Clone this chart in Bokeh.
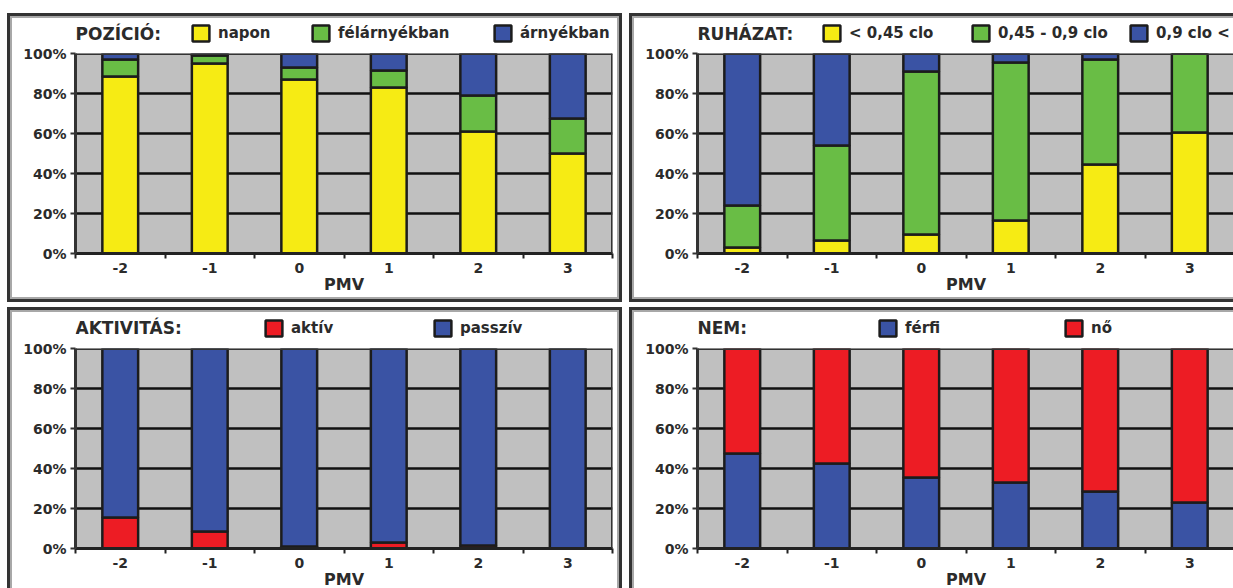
from bokeh.plotting import figure
from bokeh.layouts import row, column
from bokeh.models import (ColumnDataSource, FixedTicker, Legend, LegendItem, Label,
                          Span, Range1d, GlobalInlineStyleSheet)
from bokeh.embed import file_html
from bokeh.resources import INLINE

# ---------------- data ----------------
pmv = [-2, -1, 0, 1, 2, 3]
pmv_labels = ["-2", "-1", "0", "1", "2", "3"]
y_ticks = [0, 20, 40, 60, 80, 100]
y_labels = ["0%", "20%", "40%", "60%", "80%", "100%"]

# POZÍCIÓ
poz_names = ["napon", "félárnyékban", "árnyékban"]
poz_napon = [88.5, 95, 87, 83, 61, 50]
poz_felarnyek = [8.5, 4, 6, 8.5, 18, 17.5]
poz_arnyek = [3, 1, 7, 8.5, 21, 32.5]

# RUHÁZAT
ruh_names = ["< 0,45 clo", "0,45 - 0,9 clo", "0,9 clo <"]
ruh_low = [3, 6.5, 9.5, 16.5, 44.5, 60.5]
ruh_mid = [21, 47.5, 81.5, 79, 52.5, 39.5]
ruh_high = [76, 46, 9, 4.5, 3, 0]

# AKTIVITÁS
akt_names = ["aktív", "passzív"]
akt_aktiv = [15.5, 8.5, 1, 3, 1.5, 0]
akt_passziv = [84.5, 91.5, 99, 97, 98.5, 100]

# NEM
nem_names = ["férfi", "nő"]
nem_ferfi = [47.5, 42.5, 35.5, 33, 28.5, 23]
nem_no = [52.5, 57.5, 64.5, 67, 71.5, 77]

YELLOW = "#F6EB14"
GREEN = "#69BD45"
BLUE = "#3A53A4"
RED = "#ED1C24"
GRAY = "#C0C0C0"
DARK = "#1c1c1c"
TXT = "#2b2b2b"
FONT = "DejaVu Sans"
FRAME_LEFT = 63


def make_panel(title, names, series, colors, title_x, leg_xs, pos):
    top = pos == "top"
    lf_h = 27 if top else 28
    main_h = 252 if top else 251
    mbb = main_h - 8 - 200

    keys = ["s%d" % i for i in range(len(series))]
    data = {"x": pmv}
    for k, s in zip(keys, series):
        data[k] = s
    src = ColumnDataSource(data)

    # ---- header strip: title + legend ----
    lf = figure(width=605, height=lf_h, output_backend="svg", toolbar_location=None,
                x_range=Range1d(-2.5, 3.5), y_range=Range1d(0, 100),
                x_axis_type=None, y_axis_type=None,
                min_border_left=0, min_border_right=0, min_border_top=0, min_border_bottom=0)
    lf.outline_line_color = None
    lf.background_fill_color = "white"
    lf.border_fill_color = "white"
    lf.grid.visible = False
    lf.add_layout(Label(x=title_x, y=lf_h - 15, x_units="screen", y_units="screen",
                        text=title, text_font=FONT, text_font_size="17px",
                        text_font_style="bold", text_color=TXT, text_baseline="middle"))
    legend_rs = lf.vbar_stack(keys, x="x", width=0.4, source=src, fill_color=colors,
                              line_color=DARK, line_width=2.5, visible=False)
    for r, nm, lx in zip(legend_rs, names, leg_xs):
        lg = Legend(items=[LegendItem(label=nm, renderers=[r])],
                    location=(lx, 2),
                    orientation="horizontal", padding=0, margin=0, spacing=0,
                    border_line_color=None, background_fill_alpha=0,
                    inactive_fill_alpha=0,
                    glyph_width=21, glyph_height=20, label_standoff=7,
                    label_text_font=FONT, label_text_font_size="15px",
                    label_text_font_style="bold", label_text_color=TXT,
                    label_height=20)
        lf.add_layout(lg, "center")

    # ---- main chart ----
    p = figure(width=605, height=main_h, output_backend="svg", toolbar_location=None,
               x_range=Range1d(-2.5, 3.5), y_range=Range1d(0, 100),
               min_border_left=FRAME_LEFT, min_border_right=5,
               min_border_top=8, min_border_bottom=mbb)
    p.background_fill_color = GRAY
    p.border_fill_color = "white"
    p.outline_line_color = None

    p.vbar_stack(keys, x="x", width=0.4, source=src, fill_color=colors,
                 line_color=DARK, line_width=2.5)

    # grid
    p.xgrid.visible = False
    p.ygrid.ticker = FixedTicker(ticks=[20, 40, 60, 80])
    p.ygrid.grid_line_color = "#111111"
    p.ygrid.grid_line_width = 2.5

    # x axis
    xa = p.xaxis[0]
    xa.ticker = FixedTicker(ticks=pmv, minor_ticks=[-2.5, -1.5, -0.5, 0.5, 1.5, 2.5, 3.5])
    xa.major_label_overrides = {v: l for v, l in zip(pmv, pmv_labels)}
    xa.axis_line_color = "#222222"
    xa.axis_line_width = 3
    xa.major_tick_line_color = None
    xa.major_tick_out = 5
    xa.major_tick_in = 0
    xa.minor_tick_line_color = "#222222"
    xa.minor_tick_line_width = 2
    xa.minor_tick_out = 5
    xa.minor_tick_in = 0
    xa.major_label_standoff = 4
    xa.major_label_text_font = FONT
    xa.major_label_text_font_size = "14px"
    xa.major_label_text_font_style = "bold"
    xa.major_label_text_color = TXT
    xa.axis_label = "PMV"
    xa.axis_label_standoff = -1
    xa.axis_label_text_font = FONT
    xa.axis_label_text_font_size = "16px"
    xa.axis_label_text_font_style = "bold"
    xa.axis_label_text_color = TXT

    # y axis
    ya = p.yaxis[0]
    ya.ticker = FixedTicker(ticks=y_ticks)
    ya.major_label_overrides = {v: l for v, l in zip(y_ticks, y_labels)}
    ya.axis_line_color = "#333333"
    ya.axis_line_width = 3
    ya.major_tick_line_color = "#333333"
    ya.major_tick_line_width = 2
    ya.major_tick_out = 5
    ya.major_tick_in = 0
    ya.minor_tick_line_color = None
    ya.major_label_standoff = 4
    ya.major_label_text_font = FONT
    ya.major_label_text_font_size = "14px"
    ya.major_label_text_font_style = "bold"
    ya.major_label_text_color = TXT

    # frame lines
    p.add_layout(Span(location=100, dimension="width", line_color="#333333", line_width=3))
    p.add_layout(Span(location=3.5, dimension="height", line_color="#333333", line_width=3))

    styles = {
        "border": "2px solid #a8a8a8",
        "box-shadow": "0 0 0 3px #333333",
    }
    return column(lf, p, spacing=0, styles=styles)


p1 = make_panel("POZÍCIÓ:", poz_names, [poz_napon, poz_felarnyek, poz_arnyek],
                [YELLOW, GREEN, BLUE], 0, [115, 235, 417], "top")
p2 = make_panel("RUHÁZAT:", ruh_names, [ruh_low, ruh_mid, ruh_high],
                [YELLOW, GREEN, BLUE], 0, [124, 273, 431], "top")
p3 = make_panel("AKTIVITÁS:", akt_names, [akt_aktiv, akt_passziv],
                [RED, BLUE], 0, [188, 357], "bottom")
p4 = make_panel("NEM:", nem_names, [nem_ferfi, nem_no],
                [BLUE, RED], 0, [180, 366], "bottom")

layout = column(row(p1, p2, spacing=13), row(p3, p4, spacing=13), spacing=11,
                margin=(16, 0, 0, 10),
                stylesheets=[GlobalInlineStyleSheet(css="html, body { overflow: hidden !important; }")])

open("out.html", "w").write(file_html(layout, INLINE))
